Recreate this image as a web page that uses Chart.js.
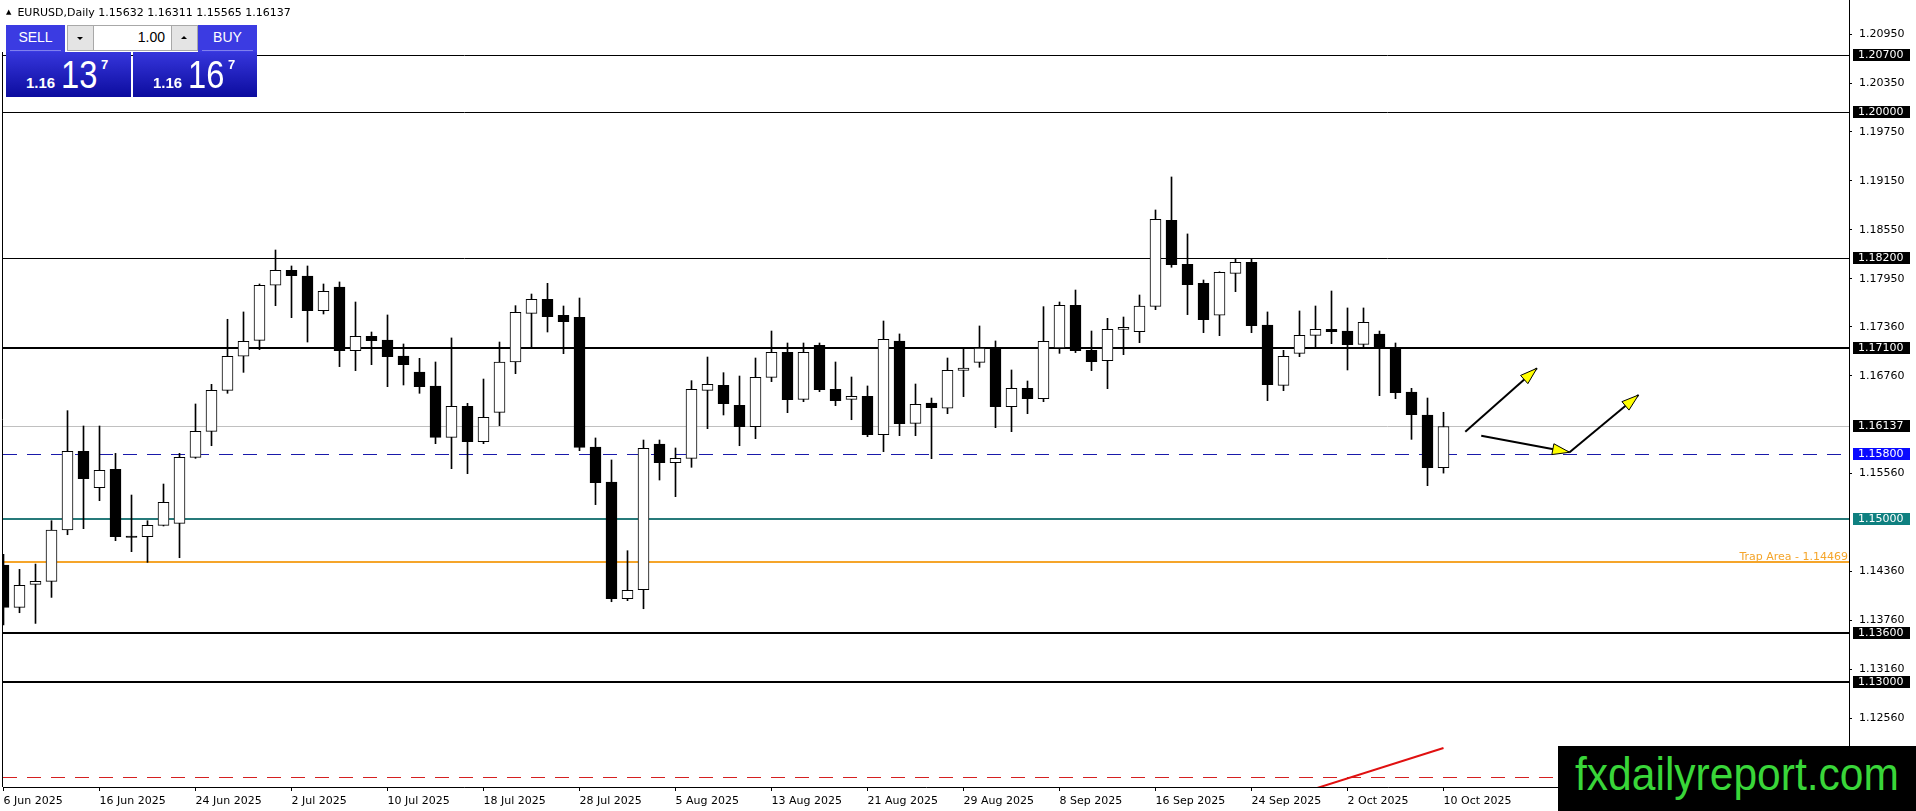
<!DOCTYPE html>
<html>
<head>
<meta charset="utf-8">
<title>EURUSD Daily</title>
<script src="https://cdn.jsdelivr.net/npm/chart.js@4.4.1/dist/chart.umd.min.js"></script>
<style>
  html, body { margin: 0; padding: 0; background: #fff; overflow: hidden; }
  #wrap { position: relative; width: 1916px; height: 811px; }
  #chart { position: absolute; left: 0; top: 0; }
  .title { position: absolute; left: 6px; top: 6px; font: 11px "DejaVu Sans", sans-serif; color: #000; white-space: nowrap; line-height: 13px; }
  .title .tri { font-size: 7px; vertical-align: 2px; margin-right: 6px; }
  .box { position: absolute; box-sizing: border-box; font-family: "Liberation Sans", Arial, sans-serif; }
  .btn { background: #3b3be2; color: #fff; font-size: 14px; text-align: center; line-height: 25px; }
  .btn .sep { position: absolute; left: 4px; right: 4px; bottom: 1px; height: 1px; background: #8080ee; }
  .spin { background: #e4e4e4; border: 1px solid #a8a8a8; }
  .spin span { position: absolute; left: 9px; width: 0; height: 0; border-left: 3px solid transparent; border-right: 3px solid transparent; }
  .tri-dn { top: 11px; border-top: 3px solid #000; }
  .tri-up { top: 10px; border-bottom: 3px solid #000; }
  #lot { background: #fff; border: 1px solid #a8a8a8; font-size: 14px; text-align: right; padding-right: 6px; line-height: 23px; }
  .big { background: linear-gradient(#3636dc, #0c0c9e); color: #fff; }
  .big span { position: absolute; line-height: 1; white-space: nowrap; }
  .big .pre { font-size: 15px; font-weight: bold; left: 20px; top: 23px; }
  .big .main { font-size: 38px; left: 55px; top: 4px; transform: scaleX(0.86); transform-origin: left top; }
  .big .sup { font-size: 13px; font-weight: bold; left: 95px; top: 6px; }
  #mark { position: absolute; left: 1558px; top: 746px; width: 358px; height: 65px; background: #000; overflow: hidden; }
  #mark span { position: absolute; left: 17px; top: 5px; font: 46px "Liberation Sans", Arial, sans-serif; line-height: 1; color: #39d639; transform: scaleX(0.925); transform-origin: left top; white-space: nowrap; }
</style>
</head>
<body>
<div id="wrap">
  <canvas id="chart" width="1916" height="811"></canvas>
  <div class="title" id="title"></div>
  <div class="box btn" style="left:6px;top:25px;width:59px;height:27px;">SELL<div class="sep"></div></div>
  <div class="box spin" style="left:67px;top:25px;width:27px;height:26px;"><span class="tri-dn"></span></div>
  <div class="box" id="lot" style="left:93px;top:25px;width:79px;height:26px;">1.00</div>
  <div class="box spin" style="left:171px;top:25px;width:27px;height:26px;"><span class="tri-up"></span></div>
  <div class="box btn" style="left:198px;top:25px;width:59px;height:27px;">BUY<div class="sep"></div></div>
  <div class="box big" id="bigL" style="left:6px;top:52px;width:125px;height:45px;"></div>
  <div class="box big" id="bigR" style="left:133px;top:52px;width:124px;height:45px;"></div>
  <div id="mark"><span>fxdailyreport.com</span></div>
</div>
<script>
// daily candles, 6 Jun 2025 .. 10 Oct 2025
const opens = [
  1.14437, 1.13918, 1.14200, 1.14237, 1.14867, 1.15832, 1.15386, 1.15611, 1.14793, 1.14785,
  1.14924, 1.14948, 1.15758, 1.16077, 1.16580, 1.16998, 1.17194, 1.17869, 1.18053, 1.17983,
  1.17558, 1.17848, 1.17067, 1.17243, 1.17198, 1.17002, 1.16805, 1.16634, 1.16004, 1.16384,
  1.15951, 1.16310, 1.16928, 1.17525, 1.17697, 1.17501, 1.17476, 1.15885, 1.15456, 1.14024,
  1.14135, 1.15922, 1.15693, 1.15746, 1.16580, 1.16642, 1.16396, 1.16135, 1.16740, 1.17047,
  1.16470, 1.17133, 1.16593, 1.16470, 1.16507, 1.16036, 1.17186, 1.16175, 1.16425, 1.16360,
  1.16826, 1.16924, 1.17104, 1.16380, 1.16605, 1.16478, 1.17100, 1.17623, 1.17071, 1.16944,
  1.17329, 1.17300, 1.17611, 1.18666, 1.18126, 1.17893, 1.17501, 1.18016, 1.18151, 1.17382,
  1.16642, 1.17034, 1.17255, 1.17329, 1.17308, 1.17145, 1.17272, 1.17104, 1.16560, 1.16278,
  1.15632
];
const highs = [
  1.14568, 1.14384, 1.14449, 1.14981, 1.16331, 1.16143, 1.16143, 1.15807, 1.15296, 1.14981,
  1.15431, 1.15807, 1.16413, 1.16654, 1.17452, 1.17542, 1.17885, 1.18302, 1.18106, 1.18106,
  1.17885, 1.17910, 1.17664, 1.17296, 1.17505, 1.17149, 1.16973, 1.16928, 1.17223, 1.16421,
  1.16719, 1.17173, 1.17619, 1.17762, 1.17893, 1.17615, 1.17713, 1.15996, 1.15726, 1.14613,
  1.15971, 1.15971, 1.15873, 1.16699, 1.16989, 1.16797, 1.16756, 1.16977, 1.17308, 1.17161,
  1.17161, 1.17161, 1.16928, 1.16744, 1.16634, 1.17431, 1.17272, 1.16658, 1.16486, 1.16977,
  1.17092, 1.17370, 1.17186, 1.16830, 1.16695, 1.17607, 1.17664, 1.17811, 1.17308, 1.17464,
  1.17480, 1.17750, 1.18793, 1.19198, 1.18499, 1.17934, 1.18035, 1.18200, 1.18200, 1.17542,
  1.17071, 1.17554, 1.17615, 1.17799, 1.17591, 1.17591, 1.17308, 1.17161, 1.16605, 1.16486,
  1.16311
];
const lows = [
  1.13701, 1.13852, 1.13721, 1.14040, 1.14809, 1.14883, 1.15227, 1.14736, 1.14601, 1.14470,
  1.14916, 1.14527, 1.15746, 1.15901, 1.16544, 1.16801, 1.17079, 1.17619, 1.17472, 1.17173,
  1.17517, 1.16871, 1.16822, 1.16895, 1.16625, 1.16646, 1.16544, 1.15926, 1.15619, 1.15558,
  1.15926, 1.16147, 1.16785, 1.17104, 1.17296, 1.17030, 1.15840, 1.15178, 1.13987, 1.14000,
  1.13901, 1.15480, 1.15276, 1.15636, 1.16110, 1.16278, 1.15901, 1.15987, 1.16687, 1.16306,
  1.16441, 1.16564, 1.16392, 1.16220, 1.16012, 1.15828, 1.16024, 1.16024, 1.15742, 1.16294,
  1.16503, 1.16863, 1.16122, 1.16073, 1.16294, 1.16441, 1.17034, 1.17043, 1.16822, 1.16601,
  1.17018, 1.17165, 1.17570, 1.18090, 1.17509, 1.17288, 1.17251, 1.17791, 1.17288, 1.16454,
  1.16576, 1.16993, 1.17104, 1.17153, 1.16830, 1.17116, 1.16515, 1.16478, 1.15979, 1.15411,
  1.15565
];
const closes = [
  1.13918, 1.14188, 1.14237, 1.14867, 1.15832, 1.15497, 1.15599, 1.14785, 1.14777, 1.14924,
  1.15206, 1.15758, 1.16077, 1.16580, 1.16998, 1.17182, 1.17869, 1.18053, 1.17987, 1.17558,
  1.17795, 1.17067, 1.17243, 1.17190, 1.16993, 1.16895, 1.16625, 1.16004, 1.16384, 1.15951,
  1.16249, 1.16928, 1.17537, 1.17697, 1.17484, 1.17423, 1.15881, 1.15447, 1.14024, 1.14126,
  1.15869, 1.15693, 1.15746, 1.16593, 1.16654, 1.16417, 1.16135, 1.16740, 1.17047, 1.16466,
  1.17047, 1.16589, 1.16454, 1.16507, 1.16036, 1.17206, 1.16171, 1.16409, 1.16368, 1.16826,
  1.16854, 1.17100, 1.16380, 1.16605, 1.16478, 1.17182, 1.17623, 1.17067, 1.16932, 1.17329,
  1.17353, 1.17615, 1.18679, 1.18122, 1.17877, 1.17447, 1.18028, 1.18151, 1.17374, 1.16650,
  1.16998, 1.17255, 1.17329, 1.17300, 1.17141, 1.17415, 1.17096, 1.16552, 1.16282, 1.15632,
  1.16137
];

const tickIdx = [0, 6, 12, 18, 24, 30, 36, 42, 48, 54, 60, 66, 72, 78, 84, 90];
const tickDates = ['6 Jun 2025', '16 Jun 2025', '24 Jun 2025', '2 Jul 2025', '10 Jul 2025',
  '18 Jul 2025', '28 Jul 2025', '5 Aug 2025', '13 Aug 2025', '21 Aug 2025', '29 Aug 2025',
  '8 Sep 2025', '16 Sep 2025', '24 Sep 2025', '2 Oct 2025', '10 Oct 2025'];

const yTicks = [1.2095, 1.2035, 1.1975, 1.1915, 1.1855, 1.1795, 1.1736, 1.1676,
  1.1556, 1.1436, 1.1376, 1.1316, 1.1256];

// horizontal levels drawn on the chart
const levelPrices = [1.207, 1.2, 1.182, 1.171, 1.16137, 1.158, 1.15, 1.14469, 1.136, 1.13, 1.11837];
// price tags on the right axis
const tagPrices = [1.207, 1.2, 1.182, 1.171, 1.16137, 1.158, 1.15, 1.136, 1.13];
const trapName = 'Trap Area';
const trapPrice = 1.14469;

const askPrice = 1.16167;

// red trend line and the arrows (bar index, price)
const trendX = [80, 90];
const trendY = [1.11571, 1.12193];
const arrowX = [[91.36, 95.84], [92.36, 97.88], [97.88, 102.19]];
const arrowY = [[1.16073, 1.16851], [1.16024, 1.15820], [1.15820, 1.16523]];

// looks
const levelStyle = [
  { color: '#000', w: 1 }, { color: '#000', w: 1 }, { color: '#000', w: 1 }, { color: '#000', w: 2 },
  { color: '#c0c0c0', w: 1 }, { color: '#1a1aaa', w: 1, dash: [14, 10] }, { color: '#267a7a', w: 2 },
  { color: '#f5a52a', w: 2 }, { color: '#000', w: 2 }, { color: '#000', w: 2 },
  { color: '#d42020', w: 1, dash: [14, 10] }
];
const tagFill = ['#000', '#000', '#000', '#000', '#000', '#0a0aff', '#0f8080', '#000', '#000'];

const last = closes.length - 1;
document.getElementById('title').innerHTML = '<span class="tri">&#9650;</span>EURUSD,Daily  ' +
  [opens[last], highs[last], lows[last], closes[last]].map((v) => v.toFixed(5)).join(' ');

const fillBig = (id, price) => {
  const s = price.toFixed(5);
  document.getElementById(id).innerHTML = '<span class="pre">' + s.slice(0, 4) + '</span>' +
    '<span class="main">' + s.slice(4, 6) + '</span><span class="sup">' + s.slice(6) + '</span>';
};
fillBig('bigL', closes[last]);
fillBig('bigR', askPrice);

const bodies = [];
const wicks = [];
const bodyFill = [];
for (let i = 0; i < opens.length; i++) {
  bodies.push({ x: i, y: [Math.min(opens[i], closes[i]), Math.max(opens[i], closes[i])] });
  wicks.push({ x: i, y: [lows[i], highs[i]] });
  bodyFill.push(closes[i] >= opens[i] ? '#fff' : '#000');
}

const arrowSets = arrowX.map((xs, k) => ({
  type: 'line',
  data: [{ x: xs[0], y: arrowY[k][0] }, { x: xs[1], y: arrowY[k][1] }],
  borderColor: '#000',
  borderWidth: 2,
  pointRadius: 0,
  order: 0,
}));

const levelsPlugin = {
  id: 'levels',
  beforeDatasetsDraw(chart) {
    const { ctx, chartArea: a, scales: { y } } = chart;
    ctx.save();
    ctx.beginPath();
    ctx.rect(a.left, a.top, a.right - a.left, a.bottom - a.top);
    ctx.clip();
    levelPrices.forEach((p, i) => {
      const s = levelStyle[i];
      let py = Math.round(y.getPixelForValue(p));
      if (s.w % 2) py += 0.5;
      ctx.strokeStyle = s.color;
      ctx.lineWidth = s.w;
      ctx.setLineDash(s.dash || []);
      ctx.beginPath();
      ctx.moveTo(a.left, py);
      ctx.lineTo(a.right, py);
      ctx.stroke();
    });
    ctx.restore();
  },
  afterDraw(chart) {
    const { ctx, chartArea: a, scales: { x, y } } = chart;
    ctx.save();
    // left frame
    ctx.strokeStyle = '#000';
    ctx.lineWidth = 1;
    ctx.beginPath();
    ctx.moveTo(a.left - 0.5, 52);
    ctx.lineTo(a.left - 0.5, a.bottom);
    ctx.stroke();

    // trap label
    ctx.font = '11px "DejaVu Sans"';
    ctx.fillStyle = '#f5a52a';
    ctx.textAlign = 'right';
    ctx.textBaseline = 'alphabetic';
    ctx.fillText(trapName + ' - ' + trapPrice.toFixed(5), a.right - 1, Math.round(y.getPixelForValue(trapPrice)) - 2);

    // axis tags
    ctx.textAlign = 'left';
    ctx.textBaseline = 'middle';
    tagPrices.forEach((p, i) => {
      const py = Math.round(y.getPixelForValue(p));
      ctx.fillStyle = tagFill[i];
      ctx.fillRect(y.left + 4, py - 6, 57, 12);
      ctx.fillStyle = '#fff';
      ctx.fillText(p.toFixed(5), y.left + 9, py);
    });

    // arrow heads
    arrowX.forEach((xs, k) => {
      const x0 = x.getPixelForValue(xs[0]);
      const y0 = y.getPixelForValue(arrowY[k][0]);
      const x1 = x.getPixelForValue(xs[1]);
      const y1 = y.getPixelForValue(arrowY[k][1]);
      const len = Math.hypot(x1 - x0, y1 - y0);
      const ux = (x1 - x0) / len;
      const uy = (y1 - y0) / len;
      const bx = x1 - ux * 17;
      const by = y1 - uy * 17;
      ctx.beginPath();
      ctx.moveTo(x1, y1);
      ctx.lineTo(bx - uy * 5.5, by + ux * 5.5);
      ctx.lineTo(bx + uy * 5.5, by - ux * 5.5);
      ctx.closePath();
      ctx.fillStyle = '#ffff00';
      ctx.fill();
      ctx.strokeStyle = '#000';
      ctx.lineWidth = 1;
      ctx.stroke();
    });
    ctx.restore();
  },
};

Chart.defaults.font.family = '"DejaVu Sans", sans-serif';
Chart.defaults.font.size = 11;
Chart.defaults.color = '#000';

// eslint-disable-next-line
const myChart = new Chart(document.getElementById('chart'), {
  type: 'bar',
  data: {
    datasets: [
      {
        data: bodies,
        backgroundColor: bodyFill,
        borderColor: '#000',
        borderWidth: 1,
        borderSkipped: false,
        barThickness: 11,
        grouped: false,
        order: 1,
      },
      {
        data: wicks,
        backgroundColor: '#000',
        borderWidth: 0,
        barThickness: 1,
        grouped: false,
        order: 2,
      },
      {
        type: 'line',
        data: trendX.map((v, i) => ({ x: v, y: trendY[i] })),
        borderColor: '#e01010',
        borderWidth: 2,
        pointRadius: 0,
        order: 0,
      },
      ...arrowSets,
    ],
  },
  options: {
    responsive: false,
    devicePixelRatio: 1,
    animation: false,
    events: [],
    layout: { padding: { left: 3, top: 0, right: 0, bottom: 0 } },
    plugins: { legend: { display: false }, tooltip: { enabled: false } },
    scales: {
      x: {
        type: 'linear',
        offset: false,
        min: -0.03125,
        max: 115.34375,
        afterBuildTicks: (scale) => {
          scale.ticks = tickIdx.map((v) => ({ value: v }));
        },
        afterFit: (scale) => {
          scale.height = 24;
          scale.paddingLeft = 0;
          scale.paddingRight = 0;
        },
        ticks: {
          align: 'start',
          autoSkip: false,
          maxRotation: 0,
          minRotation: 0,
          padding: 4,
          callback: (v) => tickDates[tickIdx.indexOf(v)],
        },
        grid: { offset: false, drawOnChartArea: false, drawTicks: true, tickLength: 4, tickColor: '#000' },
        border: { display: true, color: '#000', width: 1 },
      },
      y: {
        position: 'right',
        min: 1.11714,
        max: 1.21369,
        afterBuildTicks: (scale) => {
          scale.ticks = yTicks.map((v) => ({ value: v }));
        },
        afterFit: (scale) => {
          scale.width = 67;
          scale.paddingTop = 0;
          scale.paddingBottom = 0;
        },
        ticks: {
          autoSkip: false,
          padding: 7,
          callback: (v) => v.toFixed(5),
        },
        grid: { drawOnChartArea: false, drawTicks: true, tickLength: 3, tickColor: '#000' },
        border: { display: true, color: '#000', width: 1 },
      },
    },
  },
  plugins: [levelsPlugin],
});
</script>
</body>
</html>
